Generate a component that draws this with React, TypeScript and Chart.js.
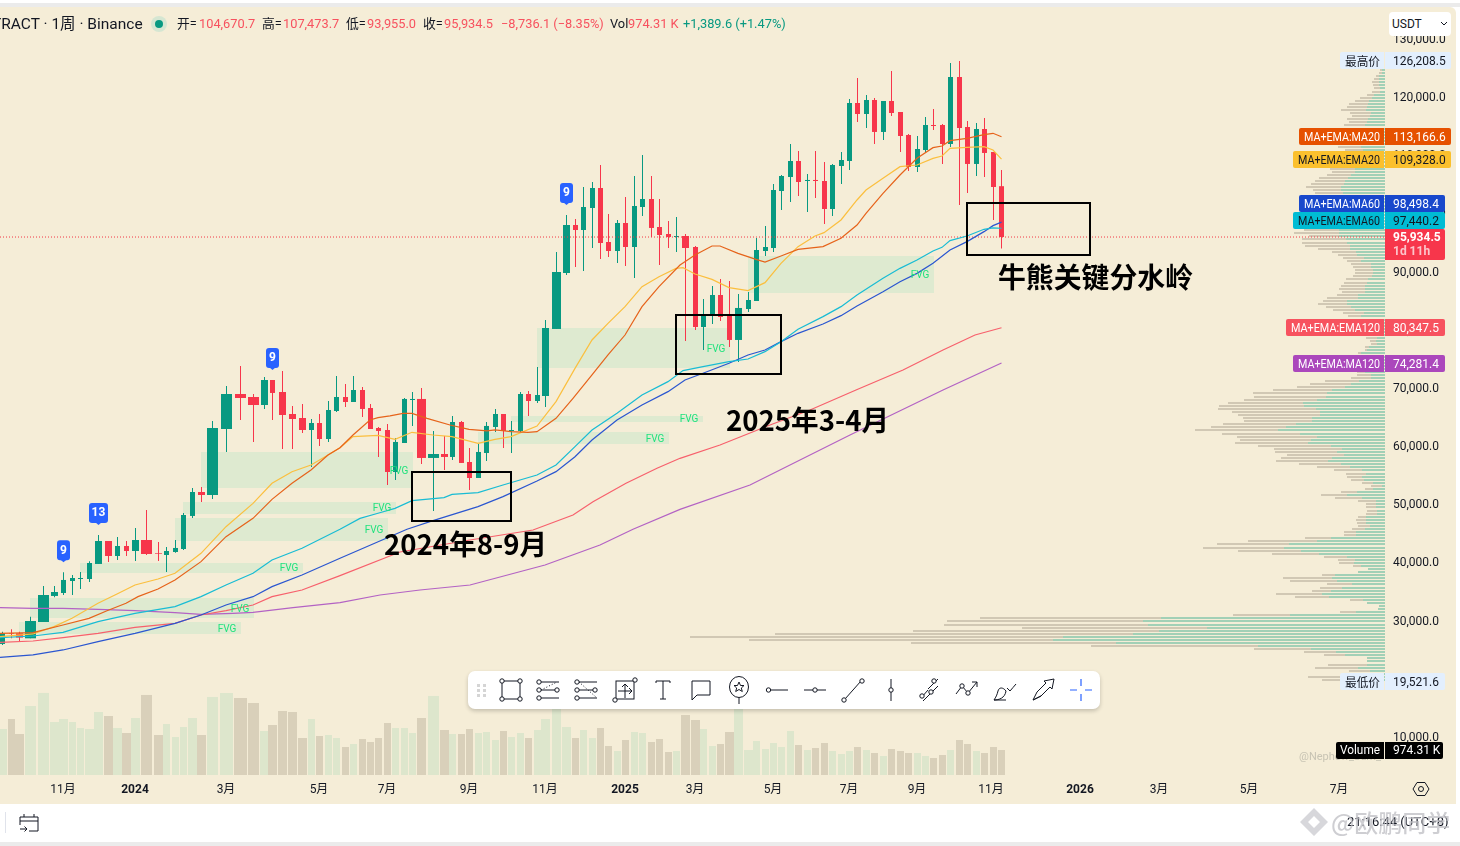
import { useEffect, useRef } from "react";
import { Chart, registerables } from "chart.js";

Chart.register(...registerables);

const UI_FONT = "Roboto, 'Noto Sans CJK SC', sans-serif";
const CJK_FONT = "'Noto Sans CJK SC', Roboto, sans-serif";
const UP = "#089981";
const DOWN = "#f7364b";

// weekly candles, the x axis of the screenshot is not evenly spaced
const weekPos = [
  2.5, 11.5, 19.5, 30.5, 43.5, 54.5, 63.5, 72.5, 80.5, 89.5, 98.5, 108.5, 117.5, 126.5, 135.5, 146.5, 158.5, 166.5, 175.5, 183.5,
  192.5, 201.5, 212.5, 226.5, 240.5, 253.5, 264.5, 272.5, 282.5, 292.5, 302.5, 311.5, 319.5, 328.5, 336.5, 345.5, 353.5, 362.5, 370.5, 378.5,
  387.5, 395.5, 404.5, 412.5, 421.5, 433.5, 444.5, 452.5, 461.5, 469.5, 478.5, 486.5, 495.5, 503.5, 511.5, 520.5, 528.5, 537.5, 545.5, 556.5,
  566.5, 575.5, 583.5, 592.5, 600.5, 608.5, 617.5, 625.5, 634.5, 642.5, 651.5, 659.5, 668.5, 676.5, 685.5, 695.5, 703.5, 712.5, 720.5, 729.5,
  738.5, 748.5, 756.5, 765.5, 773.5, 781.5, 790.5, 798.5, 807.5, 815.5, 824.5, 832.5, 841.5, 849.5, 857.5, 866.5, 874.5, 883.5, 891.5, 900.5,
  908.5, 917.5, 925.5, 933.5, 942.5, 950.5, 959.5, 967.5, 976.5, 984.5, 993.5, 1001.5,
];
const opens = [
  25990, 27820, 27820, 26960, 29770, 34240, 34750, 36810, 37160, 37160, 39740, 43690, 41110, 42830, 41970, 43860, 41630, 41280, 41800, 42310,
  47990, 52110, 51590, 62940, 68950, 68440, 67060, 71360, 69300, 65520, 64830, 62770, 63970, 61220, 66030, 68440, 67580, 69640, 66550, 63110,
  62770, 55550, 60530, 67920, 68100, 57960, 58640, 58130, 64140, 57270, 54520, 58810, 63280, 65520, 62600, 62600, 68950, 67750, 68610, 80130,
  89750, 98000, 97140, 100920, 104360, 95080, 93530, 98340, 94220, 101090, 102470, 97660, 96450, 95940, 96110, 94220, 80470, 82360, 85970, 82530,
  78240, 83560, 84940, 93530, 94050, 103840, 106250, 109000, 105560, 105740, 105560, 100750, 108140, 109000, 118970, 117080, 119480, 113990, 119310, 117420,
  113470, 107970, 110890, 115190, 115190, 111920, 123440, 114840, 108490, 114500, 110550, 104670.7,
];
const highs = [
  28110, 28510, 28110, 30680, 35950, 35950, 38300, 37840, 38360, 40190, 44720, 43690, 44380, 43690, 45920, 49020, 43520, 42660, 43860, 48500,
  52800, 52970, 64310, 70330, 73770, 68950, 71880, 71360, 72910, 66890, 67230, 64660, 65520, 67750, 72050, 70670, 72050, 70160, 67240, 63280,
  63800, 61390, 68270, 69300, 69990, 62600, 61740, 65170, 64310, 59670, 60360, 64140, 66380, 65520, 64310, 69300, 69470, 73600, 81670, 93360,
  99720, 99030, 104530, 105390, 108310, 99890, 98860, 102810, 106420, 110030, 106420, 102470, 98690, 99380, 96450, 94390, 85280, 87520, 88720, 88380,
  86140, 86490, 95770, 97830, 105050, 106590, 111920, 110720, 106770, 110720, 108830, 108490, 110550, 119660, 123270, 120340, 119830, 119310, 124470, 117420,
  113640, 113300, 116560, 117940, 115360, 125840, 126208.5, 115880, 115530, 116390, 110550, 107473.7,
];
const lows = [
  25810, 26960, 26390, 26960, 29770, 34010, 34410, 34410, 35440, 36640, 39740, 40080, 40420, 41110, 40250, 41280, 40250, 38360, 41680, 42140,
  47640, 50390, 50910, 58980, 64480, 60700, 66380, 64480, 59500, 59500, 62250, 56410, 60020, 60700, 65860, 66720, 67580, 65000, 62940, 58130,
  53320, 54170, 60530, 63450, 56920, 48850, 55890, 57610, 57100, 52460, 54520, 57440, 62420, 59670, 58810, 62420, 65170, 67410, 66720, 80130,
  89410, 90780, 90090, 94050, 92160, 92500, 91470, 90950, 88890, 99550, 95940, 91130, 94050, 93360, 78070, 79950, 76520, 80990, 81500, 77030,
  74450, 83050, 84940, 92670, 93360, 100580, 101950, 102990, 100230, 102640, 98170, 99550, 105050, 107450, 115700, 114670, 111920, 112610, 116740, 110550,
  107280, 107110, 110550, 114330, 108490, 111410, 101440, 103500, 106420, 106250, 98860, 93955,
];
const closes = [
  27820, 27700, 27080, 29940, 34410, 34920, 36990, 37330, 37330, 39910, 43690, 41110, 42830, 41970, 43860, 41450, 41510, 41970, 42490, 48160,
  52110, 51590, 63110, 68950, 68270, 67060, 71360, 69130, 65340, 64660, 62770, 63970, 61220, 66200, 68440, 67580, 69640, 66380, 62940, 62600,
  55550, 60710, 68100, 68100, 57960, 58640, 58130, 64140, 57100, 54520, 58990, 63460, 65520, 62600, 62770, 68950, 67750, 68780, 80300, 89920,
  98000, 97140, 101090, 104360, 94910, 93530, 98340, 94220, 101270, 102470, 97490, 96280, 95940, 96110, 94050, 80470, 82530, 85970, 82190, 78240,
  83740, 85110, 93700, 94220, 104020, 106420, 109000, 105390, 105740, 105560, 100750, 108310, 109170, 118970, 117080, 119480, 113990, 119310, 117250, 113300,
  107970, 111060, 115190, 115020, 111920, 123440, 114670, 108490, 114500, 110380, 104530, 95934.5,
];
// thousands of contracts
const volumes = [
  1794, 2184, 1599, 2691, 3198, 2067, 2184, 2067, 1833, 1794, 2457, 2301, 1833, 1638, 2223, 3120, 1560, 1989, 1482, 1872,
  2223, 1560, 3042, 3198, 3003, 2808, 1716, 1950, 2496, 2457, 1443, 2184, 1521, 1560, 1443, 1092, 1209, 1404, 1287, 1443,
  2028, 1833, 1833, 1638, 2223, 3081, 1755, 1599, 1599, 1794, 1638, 1677, 1365, 1716, 1482, 1638, 1443, 1755, 2184, 2795,
  1872, 1443, 1755, 1443, 1833, 1131, 936, 1365, 1677, 1638, 1287, 1404, 897, 936, 2340, 2145, 1794, 1131, 1209, 1677,
  2795, 975, 1326, 1014, 1248, 1092, 1716, 1170, 975, 1053, 1248, 936, 819, 936, 1092, 975, 858, 741, 1014, 936,
  858, 858, 741, 663, 780, 975, 1365, 1209, 936, 858, 1092, 974.31,
];

const ma20Pos = [0, 33, 63, 89, 107, 126, 138, 158, 175, 201, 226, 253, 272, 292, 311, 328, 340, 353, 370, 378, 390, 403, 412, 427, 450, 469, 487, 495, 511, 528, 537, 556, 573, 592, 608, 625, 642, 659, 680, 695, 712, 720, 738, 756, 765, 781, 798, 823, 841, 857, 866, 883, 900, 917, 933, 942, 950, 967, 984, 993, 1001.5];
const ma20 = [27820, 27930, 29250, 30400, 31710, 32980, 34120, 35440, 36990, 40140, 44430, 47580, 50850, 53600, 55890, 58470, 59730, 61910, 64490, 64890, 65180, 65630, 65630, 64770, 63630, 62880, 62600, 62770, 62480, 62370, 62480, 64770, 68210, 72220, 75660, 79090, 83960, 87400, 91130, 92850, 94390, 94390, 93130, 92100, 91640, 92670, 93820, 94280, 95710, 98000, 100010, 103440, 106590, 109460, 111290, 111580, 112500, 112900, 113530, 113760, 113166.6];
const ema20Pos = [0, 33, 54, 72, 98, 117, 135, 158, 175, 201, 226, 253, 272, 292, 311, 328, 340, 353, 378, 395, 412, 433, 452, 478, 495, 511, 537, 556, 575, 592, 608, 625, 642, 659, 676, 683, 695, 712, 729, 748, 765, 781, 798, 815, 824, 841, 857, 866, 883, 900, 917, 933, 942, 950, 967, 984, 993, 1001.5];
const ema20 = [27250, 27710, 28970, 30400, 32980, 34580, 36130, 37160, 38130, 41570, 46150, 50160, 53600, 55600, 56750, 58470, 59730, 61620, 61850, 61160, 62370, 61910, 61620, 60480, 61160, 61620, 63450, 67640, 73360, 78240, 81100, 83960, 87400, 89120, 90550, 90670, 89580, 88660, 87230, 86720, 88090, 91410, 94280, 96110, 96680, 98860, 102300, 104020, 106020, 108030, 108310, 109460, 109860, 111180, 111350, 111460, 110890, 109328];
const ema60Pos = [0, 33, 63, 98, 135, 175, 201, 226, 253, 272, 302, 340, 360, 378, 395, 412, 444, 452, 478, 503, 537, 556, 575, 592, 617, 642, 668, 683, 703, 729, 748, 765, 781, 798, 823, 841, 857, 883, 900, 917, 933, 942, 950, 967, 984, 993, 1001.5];
const ema60 = [27070, 27360, 27990, 29820, 31260, 32400, 34120, 36130, 38130, 40420, 42430, 45720, 47580, 48450, 49300, 50620, 51140, 51710, 52000, 53310, 55030, 56750, 59900, 62770, 65630, 68780, 71080, 72970, 73650, 74510, 74970, 76230, 77950, 80070, 82250, 83970, 85970, 88830, 90550, 91990, 93530, 94160, 95310, 96110, 97260, 97490, 97440.2];
const ma60Pos = [0, 33, 63, 98, 135, 175, 201, 226, 253, 272, 302, 340, 407, 433, 478, 503, 537, 556, 575, 592, 617, 642, 668, 685, 703, 729, 748, 765, 781, 798, 823, 841, 857, 883, 900, 917, 933, 950, 967, 984, 993, 1001.5];
const ma60 = [23690, 24100, 24960, 26390, 27820, 29540, 30970, 32690, 34120, 35840, 37850, 40710, 45700, 47190, 49590, 51310, 54000, 55610, 58180, 61050, 64490, 67060, 69360, 71360, 72510, 74230, 75660, 76520, 77950, 79380, 80990, 82420, 84080, 86540, 88260, 89690, 91410, 93700, 95140, 96860, 97890, 98498.4];
const ema120Pos = [0, 33, 63, 98, 135, 175, 201, 226, 253, 272, 302, 340, 400, 470, 533, 573, 593, 626, 657, 680, 720, 770, 810, 856, 903, 943, 975, 1001.5];
const ema120 = [26270, 26500, 27080, 27820, 28850, 29540, 30970, 31710, 32690, 34120, 35270, 37730, 41800, 43860, 45580, 48160, 50450, 53600, 56180, 57900, 60180, 63630, 66200, 69640, 73080, 76520, 79090, 80347.5];
const ma120Pos = [0, 33, 63, 98, 135, 175, 201, 233, 253, 293, 340, 380, 420, 470, 545, 600, 633, 680, 750, 850, 943, 1001.5];
const ma120 = [32230, 32120, 32120, 31940, 31720, 31370, 31090, 31260, 31430, 32230, 33090, 34410, 35270, 36130, 39560, 43000, 45700, 49130, 53310, 61910, 69640, 74281.4];

// visible range profile, top bin first
const profileTopPrice = 124641;
const profileBinSize = 529.5;
const profileTotal = [
  5, 6, 9, 11, 13, 12, 11, 13, 18, 25, 30, 36, 38, 44, 35, 33, 38, 36, 41, 40,
  38, 36, 34, 30, 28, 47, 40, 42, 45, 46, 44, 42, 55, 53, 58, 66, 70, 74, 79, 72,
  70, 68, 65, 60, 62, 65, 70, 75, 78, 80, 82, 84, 81, 91, 76, 83, 83, 80, 67, 53,
  47, 42, 38, 34, 32, 30, 30, 32, 39, 41, 44, 46, 43, 48, 58, 62, 67, 59, 52, 42,
  37, 35, 30, 25, 22, 20, 18, 19, 15, 14, 20, 20, 27, 28, 30, 26, 24, 26, 28, 28,
  34, 60, 75, 88, 112, 132, 131, 141, 157, 166, 167, 153, 147, 142, 141, 162, 174, 190, 163, 148,
  145, 150, 127, 111, 110, 98, 104, 109, 86, 68, 51, 39, 38, 34, 23, 14, 20, 44, 64, 50,
  27, 19, 19, 18, 19, 27, 29, 28, 27, 33, 41, 41, 80, 137, 168, 182, 147, 113, 61, 47,
  46, 32, 17, 27, 63, 102, 95, 58, 65, 73, 109, 90, 35, 18, 6, 7, 45, 152, 405, 438,
  441, 363, 472, 610, 695, 636, 474, 294, 131, 81, 61, 18, 18, 57, 70, 36, 22, 77, 63,
];
const profileUp = [
  3, 3, 6, 6, 6, 6, 5, 5, 11, 13, 16, 17, 18, 19, 14, 15, 17, 18, 20, 20,
  18, 18, 18, 16, 16, 24, 22, 22, 24, 26, 26, 24, 30, 30, 34, 37, 40, 41, 44, 44,
  42, 40, 38, 36, 36, 38, 40, 42, 44, 45, 46, 46, 46, 46, 46, 39, 38, 35, 35, 29,
  28, 21, 24, 14, 14, 12, 12, 13, 17, 18, 20, 20, 20, 27, 27, 38, 38, 34, 30, 21,
  24, 22, 20, 16, 14, 12, 12, 8, 9, 8, 16, 18, 24, 22, 24, 20, 18, 18, 20, 14,
  14, 26, 34, 40, 53, 58, 59, 68, 82, 81, 69, 65, 65, 73, 73, 89, 99, 107, 85, 68,
  74, 77, 54, 43, 48, 41, 53, 57, 44, 35, 23, 19, 23, 21, 12, 3, 12, 28, 38, 23,
  9, 9, 9, 8, 8, 19, 19, 19, 15, 20, 29, 29, 54, 68, 96, 101, 84, 66, 38, 30,
  31, 24, 17, 27, 50, 53, 48, 33, 43, 54, 63, 56, 22, 18, 6, 7, 29, 95, 224, 242,
  237, 178, 226, 252, 322, 332, 269, 127, 74, 49, 40, 18, 18, 18, 27, 15, 15, 24, 24,
];

const xTickPos = [63, 135, 226, 319, 387, 469, 545, 625, 695, 773, 849, 917, 991, 1080, 1159, 1249, 1339];
const xTickLabels = ["11月", "2024", "3月", "5月", "7月", "9月", "11月", "2025", "3月", "5月", "7月", "9月", "11月", "2026", "3月", "5月", "7月"];
const yTicks = [10000, 20000, 30000, 40000, 50000, 60000, 70000, 80000, 90000, 100000, 110000, 120000, 130000];

const fvgStart = [201, 183, 175, 80, 30, 19, 537, 748, 511, 478];
const fvgEnd = [413, 396, 388, 303, 254, 241, 730, 934, 703, 669];
const fvgTop = [58984, 50391, 47641, 39907, 33891, 29766, 80297, 92672, 65172, 62422];
const fvgBottom = [52797, 48329, 43688, 38188, 30453, 27703, 73422, 86313, 64141, 60359];

const noteBoxStart = [412, 676, 967];
const noteBoxEnd = [511, 781, 1090];
const noteBoxTop = [55547, 82531, 101781];
const noteBoxBottom = [47125, 72391, 92844];
const noteTexts = ["2024年8-9月", "2025年3-4月", "牛熊关键分水岭"];
const notePos = [465.5, 807.5, 1095.5];
const notePrices = [43172, 64485, 89063];
const noteWidths = [163, 163, 195];

const badgeCandles = [6, 10, 27, 60];
const badgeTexts = ["9", "13", "9", "9"];

const lastPrice = 95934.5;
const chartRight = 1385;
const priceMin = 3469;
const priceMax = 135297;
const plotHeight = 767;

// shift = how far the label is pushed from its price so the tags do not collide
const priceTags = [
  { name: "最高价", value: 126208.5, left: 1340, right: 1451, bg: "#e3effd", fg: "#131722", shift: 0 },
  { name: "MA+EMA:MA20", value: 113166.6, left: 1299, right: 1451, bg: "#e65100", fg: "#ffffff", shift: 0 },
  { name: "MA+EMA:EMA20", value: 109328.0, left: 1293, right: 1451, bg: "#fbc02d", fg: "#131722", shift: 0 },
  { name: "MA+EMA:MA60", value: 98498.4, left: 1299, right: 1445, bg: "#1848cc", fg: "#ffffff", shift: -18.5 },
  { name: "MA+EMA:EMA60", value: 97440.2, left: 1293, right: 1445, bg: "#00bcd4", fg: "#131722", shift: -7.5 },
  { name: "MA+EMA:EMA120", value: 80347.5, left: 1286, right: 1445, bg: "#f7525f", fg: "#ffffff", shift: 0 },
  { name: "MA+EMA:MA120", value: 74281.4, left: 1293, right: 1445, bg: "#ab47bc", fg: "#ffffff", shift: 0 },
  { name: "最低价", value: 19521.6, left: 1340, right: 1445, bg: "#e3effd", fg: "#131722", shift: 0 },
];

const money = (v: number) => v.toLocaleString("en-US", { minimumFractionDigits: 1, maximumFractionDigits: 1 });

const avgGap = (i: number) => {
  const a = weekPos[Math.max(i - 1, 0)];
  const b = weekPos[Math.min(i + 1, weekPos.length - 1)];
  return (b - a) / (i === 0 || i === weekPos.length - 1 ? 1 : 2);
};
const bodyWidth = (i: number) => {
  const g = avgGap(i);
  if (g < 9.4) return 5;
  if (g < 10.4) return 7;
  if (g < 11) return 9;
  return 11;
};
const volumeWidth = (i: number) => 2 * Math.round((avgGap(i) - 2) / 2) + 1;

const isUp = (i: number) => closes[i] >= opens[i];

// profile rows snap to whole pixels of the price axis, otherwise the stripes blur together
const binPrice = (i: number) => {
  const unit = (priceMax - priceMin) / plotHeight;
  return priceMin + Math.round((profileTopPrice - i * profileBinSize - priceMin) / unit) * unit;
};

// Chart.js has no per-bar width, so bars of the same width go in one dataset
function barsByWidth(widthOf: (i: number) => number, makePoint: (i: number) => any, colorOf: (i: number) => string, base: any) {
  const widths = Array.from(new Set(weekPos.map((_, i) => widthOf(i))));
  return widths.map((w) => {
    const idx = weekPos.map((_, i) => i).filter((i) => widthOf(i) === w);
    return {
      ...base,
      type: "bar",
      data: idx.map(makePoint),
      backgroundColor: idx.map(colorOf),
      maxBarThickness: w,
      grouped: false,
      barPercentage: 100,
      categoryPercentage: 1,
      inflateAmount: 0,
      borderWidth: 0,
    };
  });
}

const maLine = (pos: number[], values: number[], color: string, order: number) => ({
  type: "line",
  data: pos.map((x, i) => ({ x, y: values[i] })),
  borderColor: color,
  borderWidth: 1.2,
  pointRadius: 0,
  tension: 0,
  order,
  xAxisID: "x",
  yAxisID: "y",
});

const tradingPlugin = {
  id: "tradingOverlay",
  beforeDatasetsDraw(chart: any) {
    const { ctx, scales } = chart;
    ctx.save();
    ctx.fillStyle = "#deead0";
    fvgStart.forEach((s, i) => {
      const x0 = scales.x.getPixelForValue(s);
      const x1 = scales.x.getPixelForValue(fvgEnd[i]);
      const y0 = scales.y.getPixelForValue(fvgTop[i]);
      const y1 = scales.y.getPixelForValue(fvgBottom[i]);
      ctx.fillRect(x0, y0, x1 - x0, y1 - y0);
    });
    ctx.restore();
  },
  afterDatasetsDraw(chart: any) {
    const { ctx, scales } = chart;
    ctx.save();
    ctx.font = `10px ${UI_FONT}`;
    ctx.fillStyle = "#1fe27d";
    ctx.textAlign = "center";
    ctx.textBaseline = "middle";
    fvgStart.forEach((_, i) => {
      const x = scales.x.getPixelForValue(fvgEnd[i]) - 14;
      const y = scales.y.getPixelForValue((fvgTop[i] + fvgBottom[i]) / 2);
      ctx.fillText("FVG", x, y + 1);
    });

    // signal badges sit just above the candle's high
    badgeCandles.forEach((c, i) => {
      const x = scales.x.getPixelForValue(weekPos[c]);
      const tip = scales.y.getPixelForValue(highs[c]) - 10;
      const w = badgeTexts[i].length > 1 ? 19 : 13;
      ctx.fillStyle = "#2962ff";
      ctx.beginPath();
      ctx.roundRect(x - w / 2, tip - 22, w, 20, 3);
      ctx.fill();
      ctx.beginPath();
      ctx.moveTo(x - 3, tip - 2.5);
      ctx.lineTo(x, tip);
      ctx.lineTo(x + 3, tip - 2.5);
      ctx.fill();
      ctx.fillStyle = "#ffffff";
      ctx.font = `bold 12px ${UI_FONT}`;
      ctx.fillText(badgeTexts[i], x, tip - 11.5);
    });

    // hand drawn annotations from the screenshot
    ctx.strokeStyle = "#000000";
    ctx.lineWidth = 2;
    noteBoxStart.forEach((s, i) => {
      const x0 = Math.round(scales.x.getPixelForValue(s));
      const x1 = Math.round(scales.x.getPixelForValue(noteBoxEnd[i]));
      const y0 = Math.round(scales.y.getPixelForValue(noteBoxTop[i]));
      const y1 = Math.round(scales.y.getPixelForValue(noteBoxBottom[i]));
      ctx.strokeRect(x0, y0, x1 - x0, y1 - y0);
    });
    ctx.fillStyle = "#000000";
    ctx.font = `bold 28px ${CJK_FONT}`;
    noteTexts.forEach((t, i) => {
      ctx.fillText(t, scales.x.getPixelForValue(notePos[i]), scales.y.getPixelForValue(notePrices[i]), noteWidths[i]);
    });
    ctx.restore();
  },
  afterDraw(chart: any) {
    const { ctx, scales } = chart;
    ctx.save();
    ctx.textBaseline = "middle";
    ctx.textAlign = "left";
    ctx.font = `11px ${UI_FONT}`;
    ctx.fillStyle = "#c8c4b4";
    ctx.fillText("@Nephew_Sam_", 1299, 757);

    priceTags.forEach((t) => {
      const cy = scales.y.getPixelForValue(t.value) + t.shift;
      const top = Math.round(cy - 8.5);
      ctx.fillStyle = t.bg;
      ctx.beginPath();
      ctx.roundRect(t.left, top, chartRight - t.left - 1, 17, [2, 0, 0, 2]);
      ctx.fill();
      ctx.beginPath();
      ctx.roundRect(chartRight, top, t.right - chartRight, 17, [0, 2, 2, 0]);
      ctx.fill();
      ctx.fillStyle = t.fg;
      ctx.textAlign = "right";
      ctx.font = `12px ${t.name.length < 4 ? CJK_FONT : UI_FONT}`;
      ctx.fillText(t.name, 1380, top + 9.5, chartRight - t.left - 10);
      ctx.textAlign = "left";
      ctx.font = `12px ${UI_FONT}`;
      ctx.fillText(money(t.value), 1393, top + 9.5);
    });

    // last price tag has the countdown under it
    const lastY = Math.round(scales.y.getPixelForValue(lastPrice));
    ctx.fillStyle = DOWN;
    ctx.beginPath();
    ctx.roundRect(chartRight, lastY - 8, 60, 31, [0, 2, 2, 0]);
    ctx.fill();
    ctx.fillStyle = "#ffffff";
    ctx.font = `bold 12px ${UI_FONT}`;
    ctx.fillText(money(lastPrice), 1393, lastY + 1);
    ctx.fillStyle = "#fcc4ca";
    ctx.fillText("1d 11h", 1393, lastY + 15);

    ctx.fillStyle = "#000000";
    ctx.beginPath();
    ctx.roundRect(1336, 742, 48, 17, [2, 0, 0, 2]);
    ctx.fill();
    ctx.beginPath();
    ctx.roundRect(chartRight, 742, 58, 17, [0, 2, 2, 0]);
    ctx.fill();
    ctx.fillStyle = "#ffffff";
    ctx.font = `12px ${UI_FONT}`;
    ctx.textAlign = "right";
    ctx.fillText("Volume", 1380, 751, 40);
    ctx.textAlign = "left";
    ctx.fillText("974.31 K", 1393, 751);
    ctx.restore();
  },
};

const abs = (left: number, top: number, extra: any = {}) => ({ position: "absolute", left, top, whiteSpace: "nowrap", ...extra });

const headerItems: [number, string, string][] = [
  [177, "开=", "#131722"], [199, "104,670.7", "#f7525f"],
  [262, "高=", "#131722"], [283, "107,473.7", "#f7525f"],
  [346, "低=", "#131722"], [367, "93,955.0", "#f7525f"],
  [423, "收=", "#131722"], [444, "95,934.5", "#f7525f"],
  [501, "−8,736.1 (−8.35%)", "#f7525f"],
  [610, "Vol", "#131722"], [628, "974.31 K", "#f7525f"],
  [683, "+1,389.6 (+1.47%)", "#089981"],
];

const dot = (cx: number, cy: number, r = 2.2) => <circle cx={cx} cy={cy} r={r} fill="#fff" stroke="#131722" strokeWidth="1" />;
const toolIcons = [
  <g><rect x="3" y="3" width="18" height="18" fill="none" stroke="#131722" />{dot(3, 3)}{dot(21, 3)}{dot(3, 21)}{dot(21, 21)}</g>,
  <g stroke="#131722" fill="none"><path d="M5 4H23M5 12H21M5 20H23" /><path d="M5 12L21 4" strokeDasharray="1 2" />{dot(3, 4)}{dot(21, 12)}{dot(3, 12)}{dot(3, 20)}</g>,
  <g stroke="#131722" fill="none"><path d="M5 4H23M5 12H21M5 20H23" /><path d="M5 4L23 20" strokeDasharray="1 2" />{dot(3, 4)}{dot(21, 12)}{dot(3, 12)}{dot(3, 20)}</g>,
  <g stroke="#131722" fill="none"><rect x="3" y="3" width="18" height="18" /><path d="M12 7V20M5 13H19M9 9L12 6L15 9M16 10L19 13L16 16" />{dot(22, 2)}{dot(2, 22)}</g>,
  <path d="M5 3H19M12 3V21M9 21H15M5 3V5M19 3V5" stroke="#131722" fill="none" />,
  <path d="M3 3H21V17H8L3 22Z" stroke="#131722" fill="none" />,
  <g stroke="#131722" fill="none"><ellipse cx="12" cy="9" rx="9.5" ry="10.5" /><path d="M12 4L13.5 7.5H17L14.3 10L15.3 13.5L12 11.5L8.7 13.5L9.7 10L7 7.5H10.5Z" /><path d="M12 19.5V26" /></g>,
  <g stroke="#131722" fill="none"><path d="M6 12H23" />{dot(3.5, 12)}</g>,
  <g stroke="#131722" fill="none"><path d="M1 12H23" />{dot(12, 12)}</g>,
  <g stroke="#131722" fill="none"><path d="M4 21L20 3" />{dot(3, 22)}{dot(21, 3)}</g>,
  <g stroke="#131722" fill="none"><path d="M12 1V23" />{dot(12, 12)}</g>,
  <g stroke="#131722" fill="none"><path d="M4 20L11 12M11 11L21 1M6 23L21 8" />{dot(5, 18)}{dot(17, 3)}{dot(14, 14)}</g>,
  <g stroke="#131722" fill="none"><path d="M1 16L7 8L13 15L22 4M17 4H22V9" />{dot(7, 8)}{dot(13, 15)}</g>,
  <g stroke="#131722" fill="none"><path d="M1 22C6 22 12 20 13 13C10 9 6 9 5 13C4 17 3 19 1 22H13M14 10L17 13C19 11 21 8 23 6" /></g>,
  <path d="M2 22L6 14L15 5L13 3L23 1L21 11L19 9L10 18ZM2 22L10 18" stroke="#131722" fill="none" />,
  <path d="M12 1V8M12 16V23M1 12H8M16 12H23" stroke="#2962ff" strokeWidth="1.2" fill="none" />,
];
const toolX = [511, 548, 586, 625, 663, 701, 739, 777, 815, 853, 891, 929, 967, 1005, 1043, 1081];

export default function App() {
  const canvasRef = useRef<HTMLCanvasElement | null>(null);

  useEffect(() => {
    if (!canvasRef.current) return;

    const volumeDatasets = barsByWidth(
      volumeWidth,
      (i) => ({ x: weekPos[i], y: volumes[i] }),
      (i) => (isUp(i) ? "#dde6cc" : "#d9d0ba"),
      { xAxisID: "x", yAxisID: "yVolume", order: 20 }
    );
    const bodyDatasets = barsByWidth(
      bodyWidth,
      (i) => ({ x: weekPos[i], y: [Math.min(opens[i], closes[i]), Math.max(opens[i], closes[i])] }),
      (i) => (isUp(i) ? UP : DOWN),
      { xAxisID: "x", yAxisID: "y", order: 10 }
    );
    const wickDatasets = barsByWidth(
      () => 1,
      (i) => ({ x: weekPos[i], y: [lows[i], highs[i]] }),
      (i) => (isUp(i) ? UP : DOWN),
      { xAxisID: "x", yAxisID: "y", order: 11 }
    );

    const profileBar = (values: number[], color: string, order: number) => ({
      type: "bar",
      indexAxis: "y",
      xAxisID: "xProfile",
      yAxisID: "yProfile",
      data: values.map((v, i) => ({ x: v, y: binPrice(i) })),
      backgroundColor: color,
      grouped: false,
      barPercentage: 100,
      categoryPercentage: 1,
      maxBarThickness: 2,
      inflateAmount: 0,
      borderWidth: 0,
      order,
    });

    const chart = new Chart(canvasRef.current, {
      type: "bar",
      data: {
        datasets: [
          ...volumeDatasets,
          profileBar(profileTotal, "#d1c8b4", 16),
          profileBar(profileUp, "#a2d0b6", 15),
          ...wickDatasets,
          ...bodyDatasets,
          {
            type: "line",
            data: [{ x: 0, y: lastPrice }, { x: chartRight, y: lastPrice }],
            borderColor: "#f23645",
            borderWidth: 1,
            borderDash: [1, 2],
            pointRadius: 0,
            order: 7,
            xAxisID: "x",
            yAxisID: "y",
          },
          maLine(ma120Pos, ma120, "#b362c4", 6),
          maLine(ema120Pos, ema120, "#f7606c", 5),
          maLine(ma60Pos, ma60, "#2a56d0", 4),
          maLine(ema60Pos, ema60, "#18bcd4", 3),
          maLine(ema20Pos, ema20, "#fbbf3e", 2),
          maLine(ma20Pos, ma20, "#e6631a", 1),
        ] as any,
      },
      options: {
        responsive: false,
        animation: false,
        events: [],
        layout: { padding: { top: 8, right: 4, bottom: 42, left: 0 } },
        plugins: { legend: { display: false }, tooltip: { enabled: false } },
        scales: {
          x: {
            type: "linear",
            position: "bottom",
            min: 0,
            max: chartRight,
            offset: false,
            grid: { display: false, drawTicks: false },
            border: { display: false },
            afterFit: (s: any) => { s.height = 29; s.paddingLeft = 0; s.paddingRight = 0; },
            afterBuildTicks: (s: any) => { s.ticks = xTickPos.map((value) => ({ value })); },
            ticks: {
              autoSkip: false,
              maxRotation: 0,
              padding: 8,
              color: "#131722",
              font: (ctx: any) => ({
                family: UI_FONT,
                size: 12,
                weight: xTickLabels[ctx.index] && xTickLabels[ctx.index].startsWith("20") ? "bold" : "normal",
              }),
              callback: (_v: any, i: number) => xTickLabels[i],
            },
          },
          y: {
            type: "linear",
            position: "right",
            min: priceMin,
            max: priceMax,
            grid: { display: false, drawTicks: false },
            border: { display: false },
            afterFit: (s: any) => { s.width = 71; s.paddingTop = 0; s.paddingBottom = 0; },
            afterBuildTicks: (s: any) => { s.ticks = yTicks.map((value) => ({ value })); },
            ticks: {
              autoSkip: false,
              padding: 8,
              labelOffset: 1,
              color: "#131722",
              font: { family: UI_FONT, size: 12 },
              callback: (v: any) => money(Number(v)),
            },
          },
          yVolume: { type: "linear", display: false, position: "right", min: 0, max: 29900, offset: false },
          xProfile: { type: "linear", display: false, position: "bottom", reverse: true, min: 0, max: chartRight, offset: false },
          yProfile: { type: "linear", display: false, position: "right", min: priceMin, max: priceMax, offset: false },
        },
      } as any,
      plugins: [tradingPlugin],
    });

    return () => chart.destroy();
  }, []);

  return (
    <div style={{ position: "fixed", left: 0, top: 0, width: 1460, height: 846, background: "#fff", overflow: "hidden", fontFamily: UI_FONT, color: "#131722" }}>
      <div style={abs(0, 3, { width: 1460, height: 4, background: "#ebebeb" }) as any} />
      <div style={abs(0, 7, { width: 1456, height: 797, background: "#f5edd7", borderTopRightRadius: 6 }) as any} />
      <div style={abs(0, 842, { width: 1460, height: 4, background: "#ebebeb" }) as any} />
      <canvas ref={canvasRef} width={1460} height={846} style={{ position: "absolute", left: 0, top: 0, width: 1460, height: 846 }} />

      <div style={abs(-8, 14, { fontSize: 15.5, lineHeight: "20px" }) as any}>TRACT · 1周 · Binance</div>
      <div style={abs(151, 16, { width: 16, height: 16, borderRadius: 8, background: "#d5e6d2" }) as any} />
      <div style={abs(155, 20, { width: 8, height: 8, borderRadius: 4, background: UP }) as any} />
      {headerItems.map(([x, t, c]) => (
        <div key={x} style={abs(x, 15, { fontSize: 12.8, lineHeight: "18px", color: c }) as any}>{t}</div>
      ))}

      <div style={abs(1389, 12, { width: 62, height: 24, borderRadius: 4, background: "#fff", fontSize: 12, lineHeight: "24px", textIndent: 3 }) as any}>USDT</div>
      <svg style={abs(1439, 20) as any} width="10" height="8"><path d="M2 2L5 5L8 2" fill="none" stroke="#131722" /></svg>

      {/* drawing toolbar */}
      <div style={abs(468, 671, { width: 632, height: 38, borderRadius: 7, background: "#fff", boxShadow: "0 2px 4px rgba(0,0,0,.2)" }) as any} />
      <svg style={abs(475, 684) as any} width="12" height="14">
        {[1.5, 6.5, 11.5].map((y) => [2, 8].map((x) => <rect key={`${x}-${y}`} x={x} y={y - 1.5} width="3" height="3" fill="#d5d5d5" />))}
      </svg>
      {toolIcons.map((icon, i) => (
        <svg key={i} style={abs(toolX[i] - 12, 678, { overflow: "visible" }) as any} width="24" height="24" viewBox="0 0 24 24">{icon}</svg>
      ))}

      <svg style={abs(1412, 781) as any} width="18" height="16">
        <path d="M5 1.5H13L17 8L13 14.5H5L1 8Z" fill="none" stroke="#131722" />
        <circle cx="9" cy="8" r="2.5" fill="none" stroke="#131722" />
      </svg>
      <div style={abs(5, 812, { width: 1, height: 21, background: "#e0e3eb" }) as any} />
      <svg style={abs(19, 812) as any} width="20" height="20">
        <path d="M1 5H19V19H10M1 5V13M1 9H19M5 2V5M15 2V5M1 17H8M5.5 14.5L8 17L5.5 19.5" fill="none" stroke="#131722" />
      </svg>

      <div style={abs(1347, 813, { fontSize: 13, lineHeight: "18px" }) as any}>21:16:44 (UTC+8)</div>
      <svg style={abs(1298, 806) as any} width="32" height="32">
        <path d="M16 2L30 16L16 30L2 16Z M16 10L22 16L16 22L10 16Z" fill="rgba(205,205,210,.8)" fillRule="evenodd" />
      </svg>
      <div style={abs(1331, 805, { fontSize: 24, lineHeight: "34px", fontFamily: CJK_FONT, color: "rgba(190,190,195,.75)", fontWeight: 500 }) as any}>@欧鹏同学</div>
    </div>
  );
}
